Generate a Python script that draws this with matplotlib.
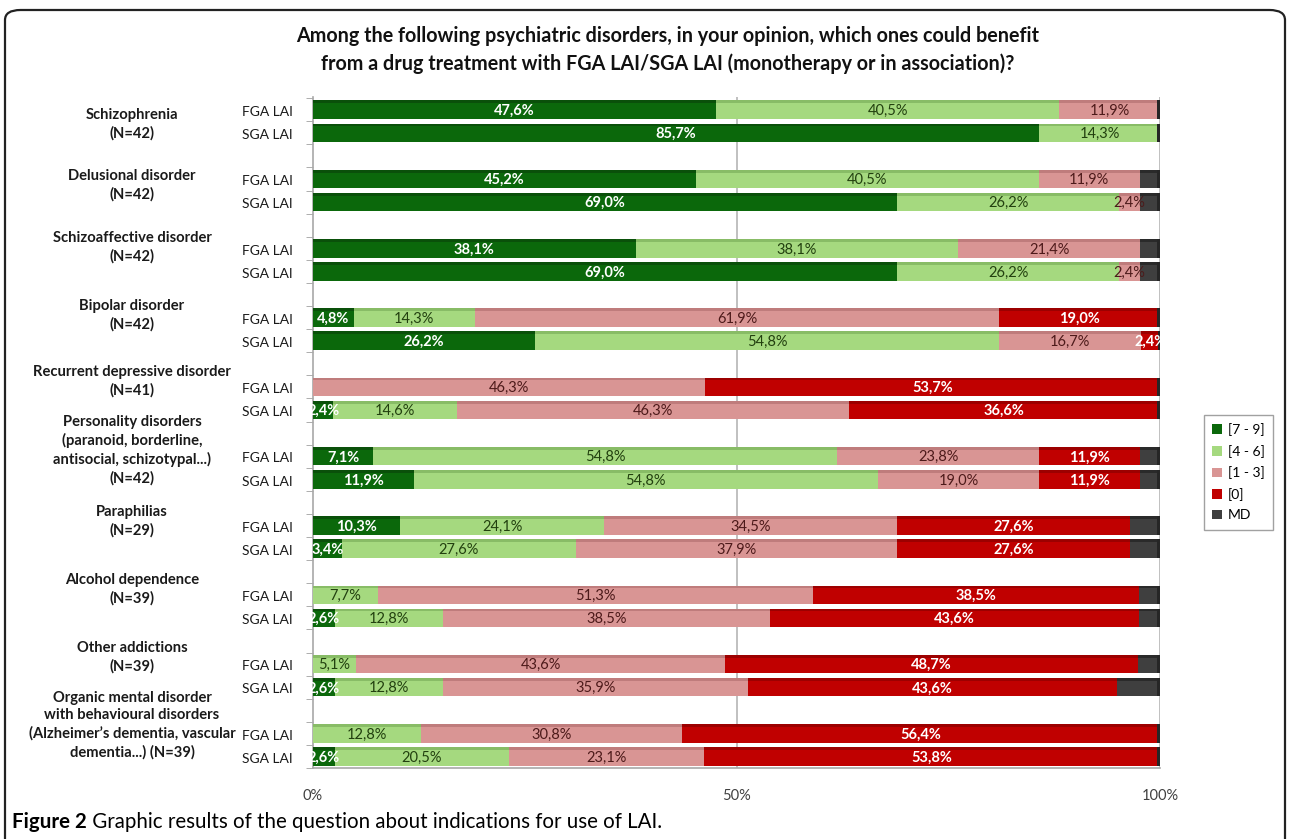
import numpy as np
import matplotlib
matplotlib.use('Agg')
import matplotlib.pyplot as plt
from matplotlib.patches import FancyBboxPatch, Patch

plt.rcParams['font.family'] = ['Lato', 'DejaVu Sans']

# Data (percent of respondents per score class)
groups = ['Schizophrenia\n(N=42)',
          'Delusional disorder\n(N=42)',
          'Schizoaffective disorder\n(N=42)',
          'Bipolar disorder\n(N=42)',
          'Recurrent depressive disorder\n(N=41)',
          'Personality disorders\n(paranoid, borderline,\nantisocial, schizotypal...)\n(N=42)',
          'Paraphilias\n(N=29)',
          'Alcohol dependence\n(N=39)',
          'Other addictions\n(N=39)',
          'Organic mental disorder\nwith behavioural disorders\n(Alzheimer\u2019s dementia, vascular\ndementia...) (N=39)']
drugs = ['FGA LAI', 'SGA LAI']
classes = ['[7 - 9]', '[4 - 6]', '[1 - 3]', '[0]', 'MD']

# one row per bar: FGA then SGA for each group
score_7_9 = [47.6, 85.7, 45.2, 69.0, 38.1, 69.0, 4.8, 26.2, 0.0, 2.4,
             7.1, 11.9, 10.3, 3.4, 0.0, 2.6, 0.0, 2.6, 0.0, 2.6]
score_4_6 = [40.5, 14.3, 40.5, 26.2, 38.1, 26.2, 14.3, 54.8, 0.0, 14.6,
             54.8, 54.8, 24.1, 27.6, 7.7, 12.8, 5.1, 12.8, 12.8, 20.5]
score_1_3 = [11.9, 0.0, 11.9, 2.4, 21.4, 2.4, 61.9, 16.7, 46.3, 46.3,
             23.8, 19.0, 34.5, 37.9, 51.3, 38.5, 43.6, 35.9, 30.8, 23.1]
score_0 = [0.0, 0.0, 0.0, 0.0, 0.0, 0.0, 19.0, 2.4, 53.7, 36.6,
           11.9, 11.9, 27.6, 27.6, 38.5, 43.6, 48.7, 43.6, 56.4, 53.8]
missing = [0.0, 0.0, 2.4, 2.4, 2.4, 2.4, 0.0, 0.0, 0.0, 0.0,
           2.4, 2.4, 3.5, 3.5, 2.5, 2.5, 2.6, 5.1, 0.0, 0.0]

colors = ['#0b680b', '#a5d97f', '#d99594', '#c00000', '#3f3f3f']
tops = ['#0a500a', '#88bc66', '#bf7c7c', '#9c0000', '#2a2a2a']
text_colors = ['white', '#22400f', '#4d1a1a', 'white', None]
text_weights = ['bold', 'normal', 'normal', 'bold', 'normal']

series = [score_7_9, score_4_6, score_1_3, score_0, missing]

fig = plt.figure(figsize=(12.9, 8.39), dpi=100)
ax = fig.add_axes([313 / 1290, 1 - 768 / 839, 847 / 1290, 671 / 839])

ypos = []
for g in range(len(groups)):
    ypos += [3 * g, 3 * g + 1]
ypos = np.array(ypos)
h = 0.8

left = np.zeros(len(ypos))
for k, vals in enumerate(series):
    vals = np.array(vals)
    ax.barh(ypos, vals, left=left, height=h, color=colors[k], edgecolor='none', zorder=3)
    # top face to fake the 3D look
    ax.barh(ypos - h / 2 + 0.06, vals, left=left, height=0.12, color=tops[k],
            edgecolor='none', zorder=4)
    if text_colors[k] is not None:
        for y, l, v in zip(ypos, left, vals):
            if v > 0:
                ax.text(l + v / 2, y + 0.05, f'{v:.1f}%'.replace('.', ','), ha='center',
                        va='center', fontsize=10.5, color=text_colors[k],
                        fontweight=text_weights[k], zorder=5)
    left = left + vals

# dark side face at the end of each bar
ax.barh(ypos, 0.6, left=left - 0.3, height=h, color='#262626', edgecolor='none', zorder=4)

ax.set_xlim(0, 100)
ax.set_ylim(28.4, -0.55)
ax.set_xticks([0, 50, 100])
ax.set_xticklabels(['0%', '50%', '100%'], fontsize=10.5, color='#404040')
ax.tick_params(axis='x', length=0, pad=15)
ax.set_yticks([])
ax.set_yticks(np.arange(-0.5, 29, 1), minor=True)
ax.tick_params(axis='y', which='minor', length=5, color='#a0a0a0')
for x in [50, 100]:
    ax.axvline(x, color='#b5b5b5', lw=1.2, zorder=1)
for s in ['top', 'right']:
    ax.spines[s].set_visible(False)
for s in ['left', 'bottom']:
    ax.spines[s].set_color('#a8a8a8')
    ax.spines[s].set_linewidth(1.2)

# drug labels
for i, y in enumerate(ypos):
    ax.text(-0.024, y + 0.1, drugs[i % 2], transform=ax.get_yaxis_transform(),
            ha='right', va='center', fontsize=10, color='#1a1a1a')

# group labels
label_shift = [0.15, -0.24, -0.56, -0.6, -0.75, -0.75, -0.69, -0.73, -0.78, -0.86]
for g, name in enumerate(groups):
    ax.text(-0.2137, 3 * g + 0.5 + label_shift[g], name, transform=ax.get_yaxis_transform(),
            ha='center', va='center', fontsize=10.6, fontweight='bold', color='#1a1a1a',
            linespacing=1.35)

fig.text(668 / 1290, 1 - 50 / 839,
         'Among the following psychiatric disorders, in your opinion, which ones could benefit\n'
         'from a drug treatment with FGA LAI/SGA LAI (monotherapy or in association)?',
         ha='center', va='center', fontsize=14.2, fontweight='bold', color='#111111',
         linespacing=1.4)

handles = [Patch(facecolor=c, edgecolor='none') for c in colors]
leg = fig.legend(handles, classes, loc='upper left', bbox_to_anchor=(1197 / 1290, 1 - 408 / 839),
                 fontsize=10, frameon=True, fancybox=False, handlelength=0.7, handleheight=0.7,
                 handletextpad=0.4, labelspacing=0.62, borderpad=0.6)
leg.get_frame().set_edgecolor('#8a8a8a')
leg.get_frame().set_linewidth(1.0)

t1 = fig.text(12 / 1290, 1 - 822 / 839, 'Figure 2', fontsize=14.8, fontweight='bold',
              va='center', ha='left')
t2 = fig.text(0, 0, ' Graphic results of the question about indications for use of LAI.',
              fontsize=14.8, va='bottom', ha='left')
fig.canvas.draw()
bb = t1.get_window_extent().transformed(fig.transFigure.inverted())
t2.set_position((bb.x1, bb.y0))

frame = FancyBboxPatch((5 / 1290, -0.05), 1280 / 1290, 1.05 - 10 / 839,
                       boxstyle='round,pad=0,rounding_size=0.012', transform=fig.transFigure,
                       fill=False, edgecolor='#222222', lw=1.6)
fig.patches.append(frame)

fig.savefig('out.png', dpi=100)
